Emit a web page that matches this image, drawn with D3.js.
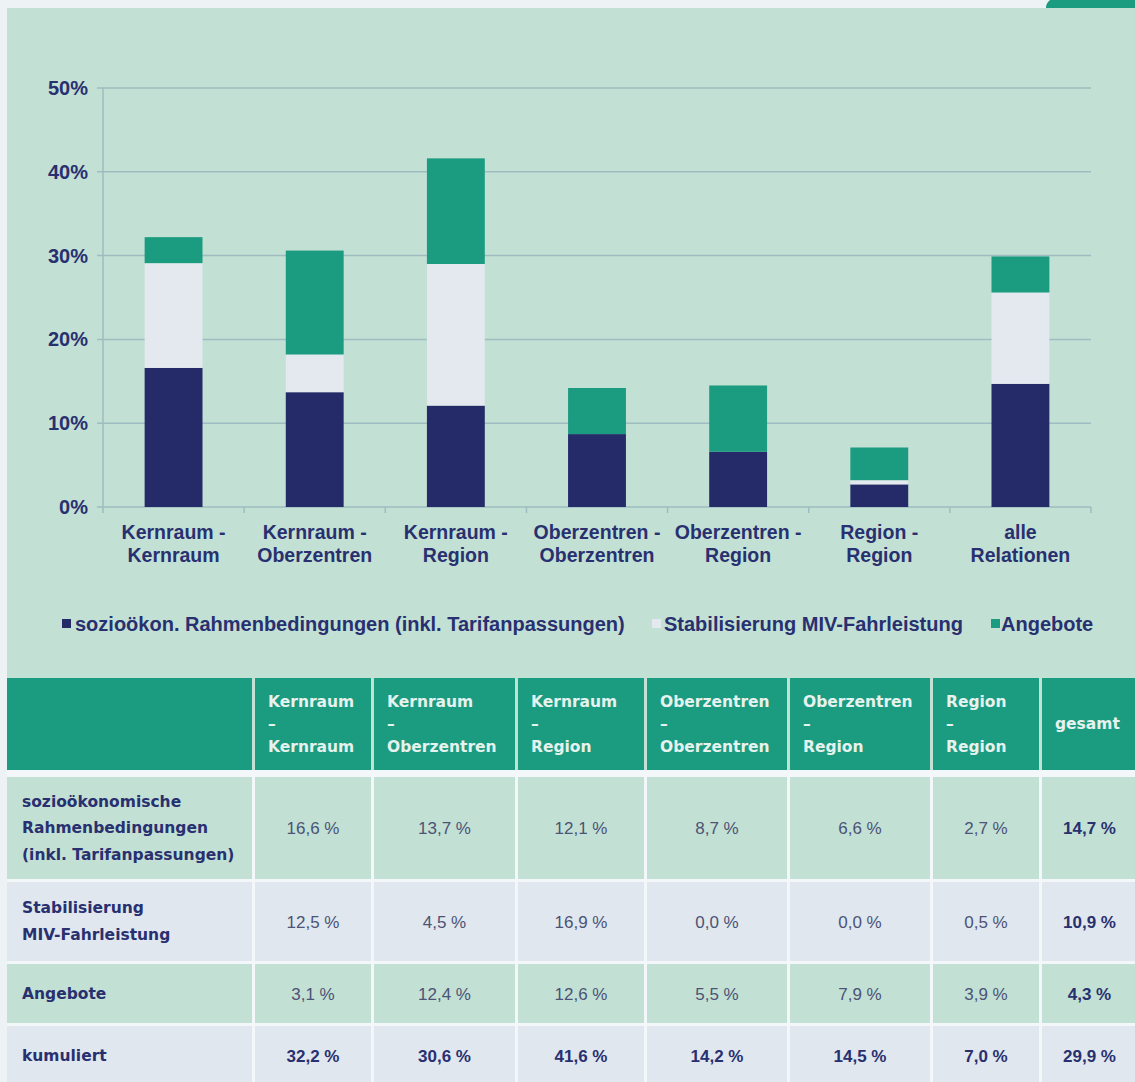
<!DOCTYPE html>
<html>
<head>
<meta charset="utf-8">
<script src="https://cdn.jsdelivr.net/npm/d3@7/dist/d3.min.js"></script>
<style>
  html, body { margin: 0; padding: 0; background: #edf2f5; }
  svg { display: block; font-family: "Liberation Sans", Arial, sans-serif; }
  .tbl-label { font-family: "DejaVu Sans", Verdana, sans-serif; }
</style>
</head>
<body>
<svg id="chart" width="1135" height="1082"></svg>
<script>
// Relations (two-line labels under the bars)
const categories = [
  ["Kernraum -", "Kernraum"],
  ["Kernraum -", "Oberzentren"],
  ["Kernraum -", "Region"],
  ["Oberzentren -", "Oberzentren"],
  ["Oberzentren -", "Region"],
  ["Region -", "Region"],
  ["alle", "Relationen"]
];
// Effect shares in percent per relation
const sozio    = [16.6, 13.7, 12.1, 8.7, 6.6, 2.7, 14.7];
const stabil   = [12.5, 4.5, 16.9, 0.0, 0.0, 0.5, 10.9];
const angebote = [3.1, 12.4, 12.6, 5.5, 7.9, 3.9, 4.3];
const kumuliert = [32.2, 30.6, 41.6, 14.2, 14.5, 7.0, 29.9];

const seriesNames = [
  "sozioökon. Rahmenbedingungen (inkl. Tarifanpassungen)",
  "Stabilisierung MIV-Fahrleistung",
  "Angebote"
];
const yTicks = [0, 10, 20, 30, 40, 50];

// Table texts
const tableHeads = [
  ["Kernraum", "–", "Kernraum"],
  ["Kernraum", "–", "Oberzentren"],
  ["Kernraum", "–", "Region"],
  ["Oberzentren", "–", "Oberzentren"],
  ["Oberzentren", "–", "Region"],
  ["Region", "–", "Region"],
  ["gesamt"]
];
const rowLabels = [
  ["sozioökonomische", "Rahmenbedingungen", "(inkl. Tarifanpassungen)"],
  ["Stabilisierung", "MIV-Fahrleistung"],
  ["Angebote"],
  ["kumuliert"]
];

const C = {
  panel: "#c3e0d4",
  navy: "#252a69",
  light: "#e3e9ef",
  green: "#1b9b7f",
  grid: "#9dbdc0",
  text: "#283070",
  value: "#4b5376",
  headText: "#e6f2ee",
  rowGrey: "#e0e7ee"
};
const colors = [C.navy, C.light, C.green];

const svg = d3.select("#chart");

// Panel background and corner badge
svg.append("rect").attr("x", 7).attr("y", 8).attr("width", 1128).attr("height", 1074).attr("fill", C.panel);
svg.append("path")
  .attr("d", "M1046,0 L1135,0 L1135,8 L1046,8 Q1046,3 1050,0 Z")
  .attr("fill", C.green);

// ---------- Bar chart ----------
const plot = { left: 103, right: 1091, top: 88, bottom: 507 };

const x = d3.scaleBand()
  .domain(d3.range(categories.length))
  .range([plot.left, plot.right])
  .paddingInner(0.59)
  .paddingOuter(0.295);

const y = d3.scaleLinear().domain([0, 50]).range([plot.bottom, plot.top]);

// Gridlines
svg.append("g").selectAll("line").data(yTicks).join("line")
  .attr("x1", plot.left - 6).attr("x2", plot.right)
  .attr("y1", d => y(d)).attr("y2", d => y(d))
  .attr("stroke", C.grid).attr("stroke-width", 1.5);

// Y axis line
svg.append("line")
  .attr("x1", plot.left).attr("x2", plot.left)
  .attr("y1", plot.top).attr("y2", plot.bottom)
  .attr("stroke", C.grid).attr("stroke-width", 1.5);

// X axis ticks between categories
const step = x.step();
svg.append("g").selectAll("line").data(d3.range(categories.length + 1)).join("line")
  .attr("x1", i => plot.left + i * step).attr("x2", i => plot.left + i * step)
  .attr("y1", plot.bottom).attr("y2", plot.bottom + 6)
  .attr("stroke", C.grid).attr("stroke-width", 1.5);

// Y tick labels
svg.append("g").selectAll("text").data(yTicks).join("text")
  .attr("x", 88).attr("y", d => y(d) + 7)
  .attr("text-anchor", "end")
  .attr("font-size", 20).attr("font-weight", "bold")
  .attr("fill", C.text)
  .text(d => d + "%");

// Stacked bars
const rows = categories.map((c, i) => ({ i, s0: sozio[i], s1: stabil[i], s2: angebote[i] }));
const stack = d3.stack().keys(["s0", "s1", "s2"])(rows);

svg.append("g").selectAll("g").data(stack).join("g")
  .attr("fill", (d, k) => colors[k])
  .selectAll("rect").data(d => d).join("rect")
  .attr("x", d => x(d.data.i))
  .attr("width", x.bandwidth())
  .attr("y", d => y(d[1]))
  .attr("height", d => y(d[0]) - y(d[1]));

// Category labels
const catG = svg.append("g").selectAll("text").data(categories).join("text")
  .attr("text-anchor", "middle")
  .attr("font-size", 19.5).attr("font-weight", "bold")
  .attr("fill", C.text);
catG.each(function (d, i) {
  const t = d3.select(this);
  const cx = x(i) + x.bandwidth() / 2;
  d.forEach((line, j) => {
    t.append("tspan").attr("x", cx).attr("y", 539 + j * 23).text(line);
  });
});

// Legend
const legendPos = [{ sx: 62, tx: 75 }, { sx: 652, tx: 664 }, { sx: 991, tx: 1001 }];
const lg = svg.append("g");
seriesNames.forEach((name, k) => {
  lg.append("rect").attr("x", legendPos[k].sx).attr("y", 619).attr("width", 9).attr("height", 9)
    .attr("fill", colors[k]);
  lg.append("text").attr("x", legendPos[k].tx).attr("y", 631)
    .attr("font-size", 20).attr("font-weight", "bold").attr("fill", C.text)
    .text(name);
});

// ---------- Table ----------
const colEdges = [7, 255, 374, 518, 647, 790, 933, 1042, 1138];
const rowEdges = [{ y0: 678, y1: 770 }, { y0: 777, y1: 879 }, { y0: 882, y1: 961 }, { y0: 964, y1: 1023 }, { y0: 1026, y1: 1085 }];
const gap = 3;

svg.append("rect").attr("x", 7).attr("y", 770).attr("width", 1128).attr("height", 312).attr("fill", "#f4f7f9");

const tbl = svg.append("g");
const fmt = v => v.toFixed(1).replace(".", ",") + " %";
const valueRows = [sozio, stabil, angebote, kumuliert];

rowEdges.forEach((r, ri) => {
  const fill = ri === 0 ? C.green : (ri % 2 === 1 ? C.panel : C.rowGrey);
  for (let ci = 0; ci < colEdges.length - 1; ci++) {
    tbl.append("rect")
      .attr("x", colEdges[ci]).attr("y", r.y0)
      .attr("width", colEdges[ci + 1] - colEdges[ci] - gap)
      .attr("height", r.y1 - r.y0)
      .attr("fill", fill);
  }
});

// Header texts
tableHeads.forEach((lines, k) => {
  const x0 = colEdges[k + 1] + 13;
  const r = rowEdges[0];
  const mid = (r.y0 + r.y1) / 2;
  const t = tbl.append("text").attr("class", "tbl-label")
    .attr("font-size", 15.5).attr("font-weight", "bold").attr("fill", C.headText);
  lines.forEach((line, j) => {
    t.append("tspan").attr("x", x0).attr("y", mid + 5 + (j - (lines.length - 1) / 2) * 22.5).text(line);
  });
});

// Row labels and values
valueRows.forEach((vals, ri) => {
  const r = rowEdges[ri + 1];
  const mid = (r.y0 + r.y1) / 2;
  const lines = rowLabels[ri];
  const t = tbl.append("text").attr("class", "tbl-label")
    .attr("font-size", 15.5).attr("font-weight", "bold").attr("fill", C.text);
  lines.forEach((line, j) => {
    t.append("tspan").attr("x", 22).attr("y", mid + 5 + (j - (lines.length - 1) / 2) * 26.5).text(line);
  });
  vals.forEach((v, ci) => {
    const cx = (colEdges[ci + 1] + colEdges[ci + 2] - gap) / 2;
    const bold = ri === 3 || ci === vals.length - 1;
    tbl.append("text")
      .attr("x", cx + (ci === vals.length - 1 ? 1 : 0)).attr("y", mid + 6)
      .attr("text-anchor", "middle")
      .attr("font-size", 17)
      .attr("font-weight", bold ? "bold" : "normal")
      .attr("fill", bold ? C.text : C.value)
      .text(fmt(v));
  });
});
</script>
</body>
</html>
